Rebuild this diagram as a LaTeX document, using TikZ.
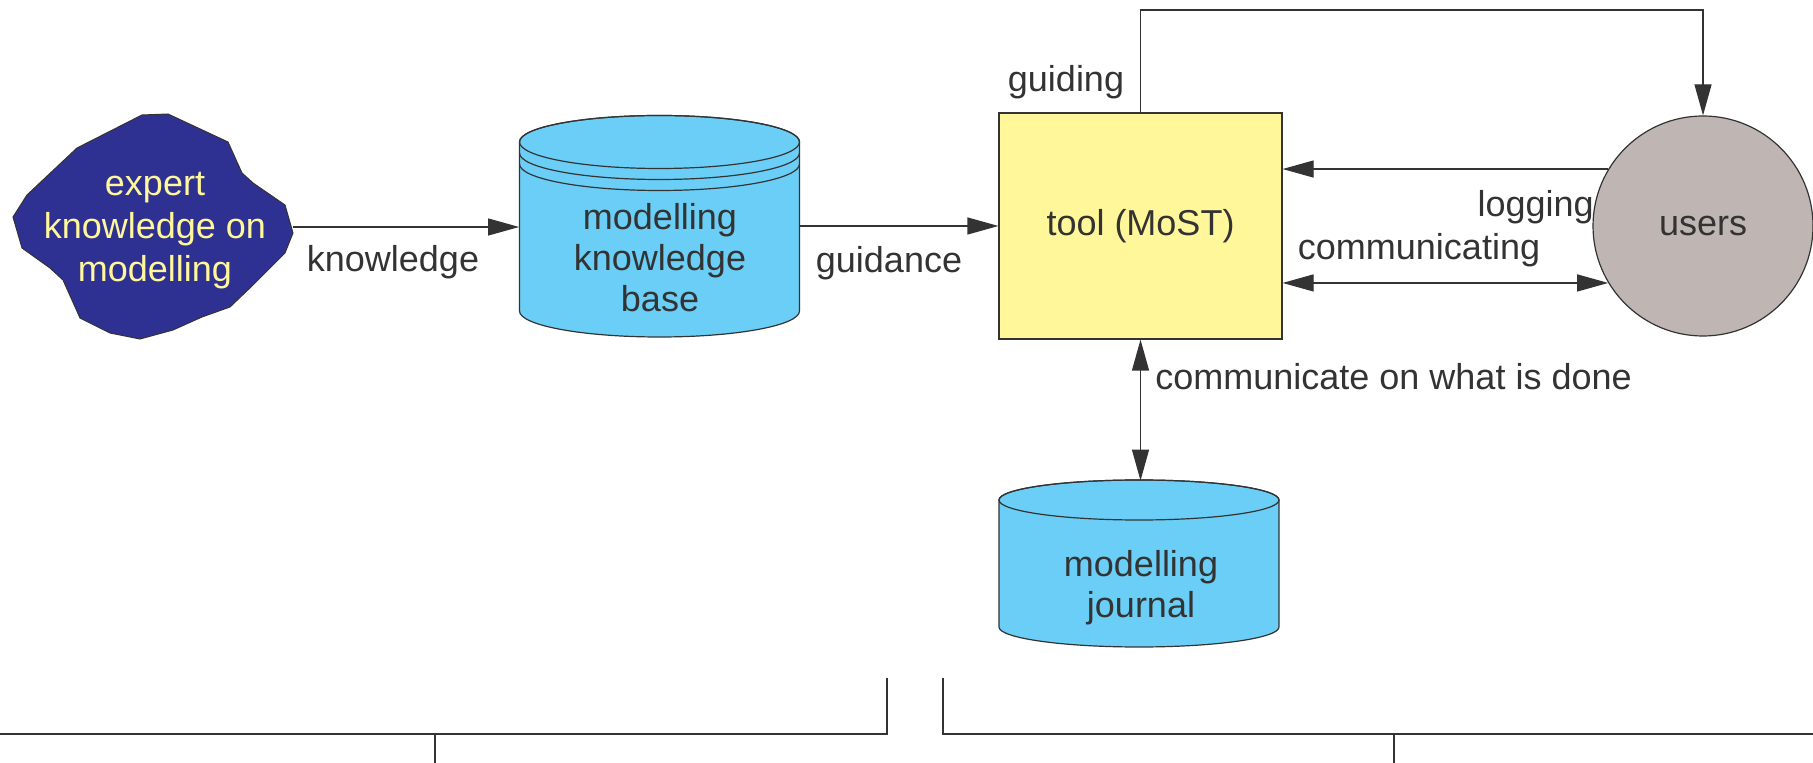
\documentclass[tikz,border=0pt]{standalone}
\usepackage{fontspec}
\setmainfont{Liberation Sans}
\usetikzlibrary{arrows.meta}
\definecolor{linec}{HTML}{333333}
\definecolor{txt}{HTML}{333333}
\definecolor{blobblue}{HTML}{2E3192}
\definecolor{blobtxt}{HTML}{FFF799}
\definecolor{cyl}{HTML}{6ACEF6}
\definecolor{toolfill}{HTML}{FFF799}
\definecolor{userfill}{HTML}{BFB6B3}
\begin{document}
\begin{tikzpicture}[x=0.5pt,y=-0.5pt,
  outl/.style={draw=linec, line width=0.6pt},
  arr/.style={draw=linec, line width=0.6pt, -{Triangle[length=15.5pt,width=8.5pt]}},
  dbl/.style={draw=linec, line width=0.6pt, {Triangle[length=15.5pt,width=8.5pt]}-{Triangle[length=15.5pt,width=8.5pt]}},
  lbl/.style={text=txt, font=\fontsize{18}{20.5}\selectfont, inner sep=0pt, align=center},
  area/.style={inner sep=0pt, draw=none}]
\useasboundingbox (0,0) rectangle (1813,763);

% blob
\path[fill=blobblue, draw=linec, line width=0.5pt]
  (142,115) -- (168,114) -- (228,142) -- (242,173) -- (253,183) -- (285,205)
  -- (293,233) -- (285,253) -- (253,285) -- (230,307) -- (202,317) -- (173,330)
  -- (140,339) -- (110,333) -- (80,318) -- (63,280) -- (50,268) -- (22,248)
  -- (13,217) -- (27,195) -- (77,148) -- cycle;
\node[area, minimum width=140pt, minimum height=112.5pt] (blob) at (153,226.5) {};
\node[lbl, text=blobtxt, font=\fontsize{18}{21.5}\selectfont] (blobtext) at (155,231) {expert\\knowledge on\\modelling};

% knowledge base cylinder
\node[area, minimum width=140pt, minimum height=111.5pt] (kb) at (659.5,225.5) {};
\path[outl, fill=cyl] (519.5,142) -- (519.5,311)
  arc[start angle=180, end angle=360, x radius=70pt, y radius=13pt]
  -- (799.5,142)
  arc[start angle=0, end angle=180, x radius=70pt, y radius=13.25pt] -- cycle;
\draw[outl] (659.5,142) ellipse[x radius=70pt, y radius=13.25pt];
\draw[outl] (519.5,153) arc[start angle=180, end angle=360, x radius=70pt, y radius=13.25pt];
\draw[outl] (519.5,164) arc[start angle=180, end angle=360, x radius=70pt, y radius=13.25pt];
\node[lbl] (kbtext) at (660,258) {modelling\\knowledge\\base};

% tool
\node[outl, fill=toolfill, minimum width=141.5pt, minimum height=113pt, inner sep=0pt,
  text=txt, font=\fontsize{18}{20.5}\selectfont] (tool) at (1140.5,226) {tool (MoST)};

% users
\node[outl, fill=userfill, circle, minimum size=110pt, inner sep=0pt,
  text=txt, font=\fontsize{18}{20.5}\selectfont] (users) at (1703,226) {users};

% journal cylinder
\node[area, minimum width=140pt, minimum height=83pt] (journal) at (1139,564) {};
\path[outl, fill=cyl] (999,500) -- (999,627)
  arc[start angle=180, end angle=360, x radius=70pt, y radius=10pt]
  -- (1279,500)
  arc[start angle=0, end angle=180, x radius=70pt, y radius=10pt] -- cycle;
\draw[outl] (1139,500) ellipse[x radius=70pt, y radius=10pt];
\node[lbl] (jtext) at (1141,588) {modelling\\journal};

% connectors
\draw[arr] (blob.east |- 0,227) -- (kb.west |- 0,227);
\draw[arr] (kb.east |- tool.west) -- (tool.west);
\coordinate (gtop) at (1140.5,10);
\draw[arr] (tool.north) -- (gtop) -| (users.north);
\draw[arr] (users.149.5) -- (users.149.5 -| tool.east);
\draw[dbl] (users.211.8 -| tool.east) -- (users.211.8);
\draw[dbl] (tool.south) -- (tool.south |- journal.north);

% labels
\node[lbl] (lknow) at (393,262) {knowledge};
\node[lbl] (lguid) at (889,263) {guidance};
\node[lbl] (lguiding) at (1066,82) {guiding};
\node[lbl, anchor=east] (llog) at (1594,207) {logging};
\node[lbl] (lcomm) at (1419,250) {communicating};
\node[lbl, anchor=west] (ldone) at (1155,377) {communicate on what is done};

% bottom lines
\draw[outl] (0,734) -- (887,734) -- (887,678);
\draw[outl] (435,734) -- (435,763);
\draw[outl] (943,678) -- (943,734) -- (1813,734);
\draw[outl] (1394,734) -- (1394,763);
\end{tikzpicture}
\end{document}
